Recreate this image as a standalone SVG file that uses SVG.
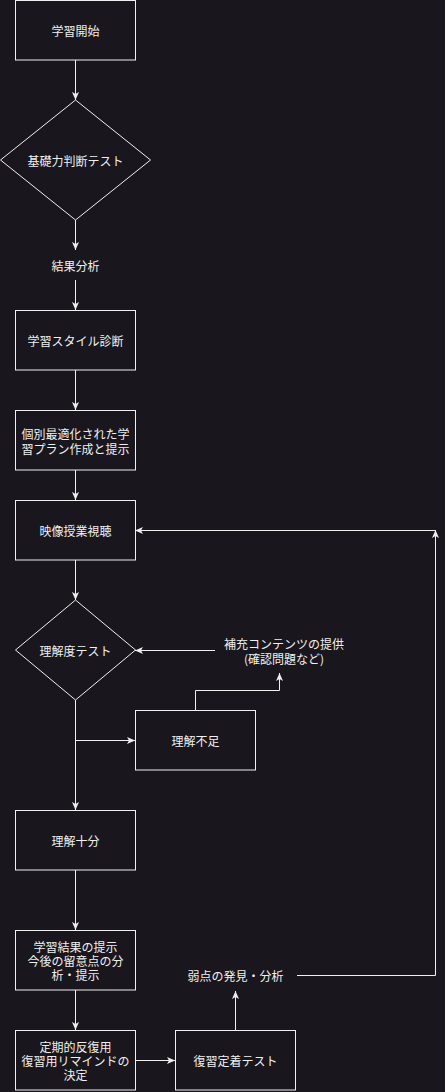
<svg xmlns="http://www.w3.org/2000/svg" width="445" height="1092" viewBox="0 0 445 1092">
<defs>
<style>
.n{fill:none;stroke:#f0f0f0;stroke-width:1}
.e{fill:none;stroke:#f0f0f0;stroke-width:1}
.t{font-family:"Noto Sans CJK JP","Noto Sans CJK SC",sans-serif;font-size:12px;fill:#f0f0f0;text-anchor:middle;dominant-baseline:central}
</style>
<marker id="a" markerUnits="userSpaceOnUse" markerWidth="8" markerHeight="8" viewBox="0 0 8 8" refX="8" refY="4" orient="auto">
<path d="M0,0.5 L8,4 L0,7.5 L2,4 Z" fill="#f0f0f0"/>
</marker>
</defs>
<rect width="445" height="1092" fill="#19161d"/>
<g id="edges">
<path class="e" d="M75.5,60 V100" marker-end="url(#a)"/>
<path class="e" d="M75.5,220 V250" marker-end="url(#a)"/>
<path class="e" d="M75.5,280 V310" marker-end="url(#a)"/>
<path class="e" d="M75.5,370 V410" marker-end="url(#a)"/>
<path class="e" d="M75.5,470 V500" marker-end="url(#a)"/>
<path class="e" d="M75.5,560 V600" marker-end="url(#a)"/>
<path class="e" d="M215,650.5 H135" marker-end="url(#a)"/>
<path class="e" d="M75.5,700 V810" marker-end="url(#a)"/>
<path class="e" d="M75.5,740.5 H135" marker-end="url(#a)"/>
<path class="e" d="M195.5,710 V690.5 H279.5 V673" marker-end="url(#a)"/>
<path class="e" d="M75.5,870 V930" marker-end="url(#a)"/>
<path class="e" d="M75.5,990 V1030" marker-end="url(#a)"/>
<path class="e" d="M135,1060.5 H175" marker-end="url(#a)"/>
<path class="e" d="M235.5,1030 V991" marker-end="url(#a)"/>
<path class="e" d="M297,975.5 H435.5 V530" marker-end="url(#a)"/>
<path class="e" d="M435.5,530.5 H135" marker-end="url(#a)"/>
</g>
<g id="n1"><rect class="n" x="15.5" y="0.5" width="120" height="59.5"/><text class="t" x="75.5" y="30">学習開始</text></g>
<g id="n2"><path class="n" d="M75.5,100 L150.5,160 L75.5,220 L0.5,160 Z"/><text class="t" x="75.5" y="160">基礎力判断テスト</text></g>
<g id="n3"><text class="t" x="75.5" y="265">結果分析</text></g>
<g id="n4"><rect class="n" x="15.5" y="310.5" width="120" height="59.5"/><text class="t" x="75.5" y="340">学習スタイル診断</text></g>
<g id="n5"><rect class="n" x="15.5" y="410.5" width="120" height="59.5"/><text class="t" x="75.5" y="433">個別最適化された学</text><text class="t" x="75.5" y="448">習プラン作成と提示</text></g>
<g id="n6"><rect class="n" x="15.5" y="500.5" width="120" height="59.5"/><text class="t" x="75.5" y="530">映像授業視聴</text></g>
<g id="n7"><path class="n" d="M75.5,600 L135.5,650 L75.5,700 L15.5,650 Z"/><text class="t" x="75.5" y="650">理解度テスト</text></g>
<g id="n8"><text class="t" x="284" y="643">補充コンテンツの提供</text><text class="t" x="284" y="658">(確認問題など)</text></g>
<g id="n9"><rect class="n" x="135.5" y="710.5" width="120" height="59.5"/><text class="t" x="195.5" y="740">理解不足</text></g>
<g id="n10"><rect class="n" x="15.5" y="810.5" width="120" height="59.5"/><text class="t" x="75.5" y="840">理解十分</text></g>
<g id="n11"><rect class="n" x="15.5" y="930.5" width="120" height="59.5"/><text class="t" x="75.5" y="946">学習結果の提示</text><text class="t" x="75.5" y="960">今後の留意点の分</text><text class="t" x="75.5" y="974">析・提示</text></g>
<g id="n12"><rect class="n" x="15.5" y="1030.5" width="120" height="59.5"/><text class="t" x="75.5" y="1046">定期的反復用</text><text class="t" x="75.5" y="1060">復習用リマインドの</text><text class="t" x="75.5" y="1074">決定</text></g>
<g id="n13"><rect class="n" x="175.5" y="1030.5" width="120" height="59.5"/><text class="t" x="235.5" y="1060">復習定着テスト</text></g>
<g id="n14"><text class="t" x="235.5" y="975">弱点の発見・分析</text></g>
</svg>
